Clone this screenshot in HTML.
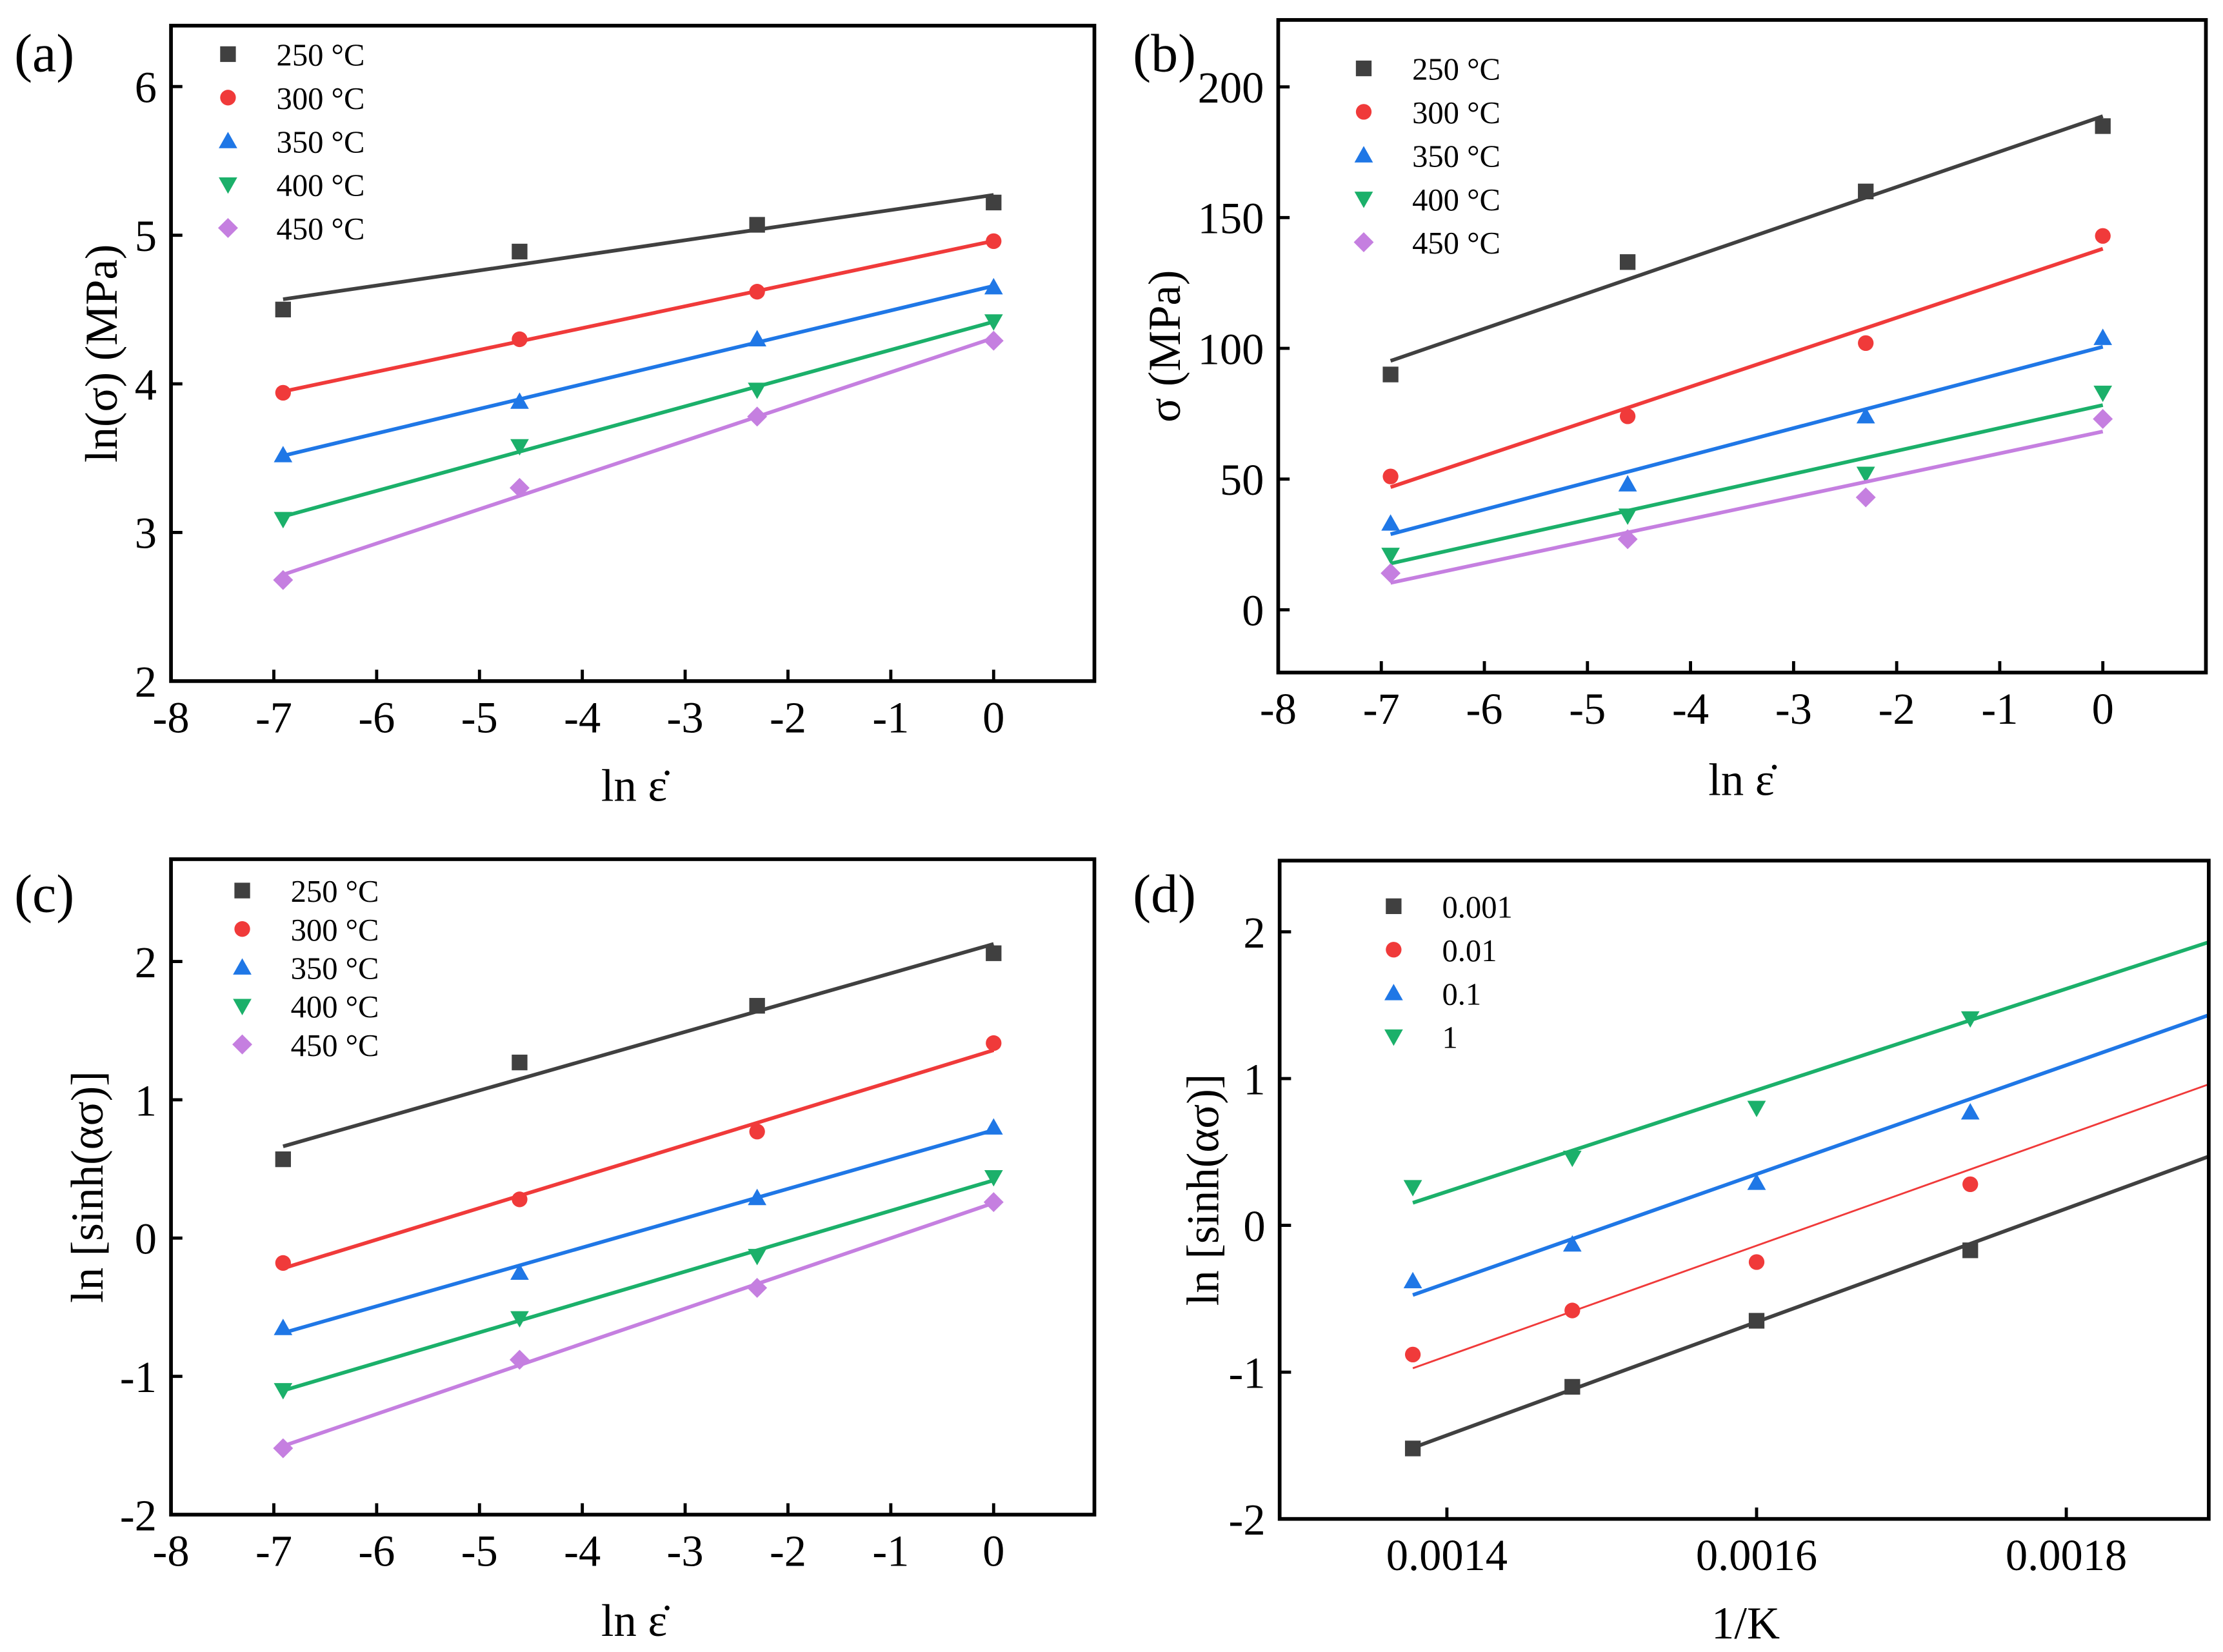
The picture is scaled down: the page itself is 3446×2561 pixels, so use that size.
<!DOCTYPE html>
<html><head><meta charset="utf-8"><style>
html,body{margin:0;padding:0;background:#fff;}
svg{display:block;font-family:"Liberation Serif",serif;}
</style></head><body>
<svg id="fig" width="3446" height="2561" viewBox="0 0 1560 1159.4" preserveAspectRatio="none" xmlns="http://www.w3.org/2000/svg"></svg>
<script>
const lnRate = [-6.91, -4.61, -2.30, 0];
const invT = [0.001378, 0.001481, 0.001600, 0.001738, 0.001912];
const tempLabels = ["250 °C","300 °C","350 °C","400 °C","450 °C"];
const rateLabels = ["0.001","0.01","0.1","1"];
const a250=[4.50,4.89,5.07,5.22], a300=[3.94,4.30,4.62,4.96], a350=[3.52,3.88,4.30,4.65], a400=[3.09,3.58,3.96,4.42], a450=[2.68,3.30,3.78,4.29];
const b250=[90,133,160,185], b300=[51,74,102,143], b350=[33,48,74,104], b400=[21,36,52,83], b450=[14,27,43,73];
const c250=[0.57,1.27,1.68,2.06], c300=[-0.18,0.28,0.77,1.41], c350=[-0.65,-0.25,0.29,0.80], c400=[-1.10,-0.58,-0.13,0.44], c450=[-1.52,-0.88,-0.36,0.26];
const d001=[-1.52,-1.10,-0.65,-0.17,0.57], d01=[-0.88,-0.58,-0.25,0.28,1.15], d1=[-0.38,-0.13,0.29,0.77,1.60], d10=[0.26,0.46,0.80,1.41,2.05];
const lnTicks=[-8,-7,-6,-5,-4,-3,-2,-1,0];
const aTicks=[2,3,4,5,6], bTicks=[0,50,100,150,200], cTicks=[-2,-1,0,1,2], dTicks=[-2,-1,0,1,2];
const dxTicks=[0.0014,0.0016,0.0018], dxTickLabels=["0.0014","0.0016","0.0018"];

const NS="http://www.w3.org/2000/svg";
const svg=document.getElementById('fig');
const colors=["#404040","#f03a3a","#1f77e6","#1bb06a","#c57fe0"];
const shapes=["sq","ci","tu","td","di"];
function mk(tag,attrs,parent){const e=document.createElementNS(NS,tag);for(const k in attrs)e.setAttribute(k,attrs[k]);(parent||svg).appendChild(e);return e;}
function marker(shape,x,y,c,g){
  let e;const s=5.5;
  if(shape==="sq")e=mk('rect',{x:x-s,y:y-s,width:2*s,height:2*s,fill:c},g);
  else if(shape==="ci")e=mk('circle',{cx:x,cy:y,r:s,fill:c},g);
  else if(shape==="tu")e=mk('polygon',{points:`${x},${y-6.5} ${x+6.5},${y+5} ${x-6.5},${y+5}`,fill:c},g);
  else if(shape==="td")e=mk('polygon',{points:`${x},${y+6.5} ${x+6.5},${y-5} ${x-6.5},${y-5}`,fill:c},g);
  else e=mk('polygon',{points:`${x},${y-7} ${x+7},${y} ${x},${y+7} ${x-7},${y}`,fill:c},g);
  return e;
}
function fit(xs,ys){const n=ys.length;let mx=0,my=0;for(let i=0;i<n;i++){mx+=xs[i];my+=ys[i];}mx/=n;my/=n;let sxy=0,sxx=0;for(let i=0;i<n;i++){sxy+=(xs[i]-mx)*(ys[i]-my);sxx+=(xs[i]-mx)**2;}const m=sxy/sxx;return [m,my-m*mx];}

function panel(o){
  const g=mk('g',{});
  
  
  const X=v=>o.L+(v-o.x0)/(o.x1-o.x0)*(o.R-o.L);
  const Y=v=>o.B-(v-o.y0)/(o.y1-o.y0)*(o.B-o.T);
  o.xt.forEach((v,i)=>{const t=mk('line',{x1:X(v),x2:X(v),y1:o.B,y2:o.B-8,stroke:"#000","stroke-width":2.2},g);
    
    const l=mk('text',{x:X(v),y:o.B+36,"font-size":31,"text-anchor":"middle"},g);l.textContent=o.xl?o.xl[i]:String(v);
    });
  o.yt.forEach(v=>{const t=mk('line',{x1:o.L,x2:o.L+8,y1:Y(v),y2:Y(v),stroke:"#000","stroke-width":2.2},g);
    
    const l=mk('text',{x:o.L-10,y:Y(v)+11,"font-size":31,"text-anchor":"end"},g);l.textContent=String(v);
    });
  o.series.forEach((ys,k)=>{
    const [m,b]=fit(o.xs,ys);const xa=o.lx0,xb=o.lx1;
    const ln=mk('line',{x1:X(xa),y1:Y(m*xa+b),x2:X(xb),y2:Y(m*xb+b),stroke:colors[k],"stroke-width":o.thin===k?1.3:2.6},g);
    
    
    ys.forEach((v,i)=>{if(o.xs[i]>o.x1)return;const p=marker(shapes[k],X(o.xs[i]),Y(v),colors[k],g);
      
      });
    const ly=o.legY+k*o.legDy;
    const lm=marker(shapes[k],o.legX,ly,colors[k],g);
    
    const lt=mk('text',{x:o.legX+34,y:ly+8,"font-size":22},g);lt.textContent=o.labels[k];
    
  });
  const box=mk('rect',{x:o.L,y:o.T,width:o.R-o.L,height:o.B-o.T,fill:"none",stroke:"#000","stroke-width":2.6},g);
  
  const xt=mk('text',{x:o.xtx,y:o.xty,"font-size":32,"text-anchor":"middle"},g);xt.textContent=o.xtitle;
  
  const yt=mk('text',{x:0,y:0,"font-size":32,"text-anchor":"middle",transform:`translate(${o.ytx},${o.yty}) rotate(-90)`},g);yt.textContent=o.ytitle;
  
  const pl=mk('text',{x:o.plx,y:o.ply,"font-size":38},g);pl.textContent=o.plabel;
  
}
panel({name:'panel-a',L:120,R:768,T:18,B:478,x0:-8,x1:0.98,y0:2,y1:6.41,xs:lnRate,xt:lnTicks,yt:aTicks,
  series:[a250,a300,a350,a400,a450],labels:tempLabels,lx0:-6.91,lx1:0,legX:160,legY:38,legDy:30.5,
  xtitle:"ln ε̇",xtx:445,xty:562,ytitle:"ln(σ) (MPa)",ytx:82,yty:248,plabel:"(a)",plx:10,ply:50});
panel({name:'panel-b',L:897,R:1548,T:14,B:472,x0:-8,x1:1.0,y0:-24,y1:225.6,xs:lnRate,xt:lnTicks,yt:bTicks,
  series:[b250,b300,b350,b400,b450],labels:tempLabels,lx0:-6.91,lx1:0,legX:957,legY:48,legDy:30.5,
  xtitle:"ln ε̇",xtx:1222,xty:558,ytitle:"σ (MPa)",ytx:828,yty:243,plabel:"(b)",plx:795,ply:50});
panel({name:'panel-c',L:120,R:768,T:603,B:1063,x0:-8,x1:0.98,y0:-2,y1:2.74,xs:lnRate,xt:lnTicks,yt:cTicks,
  series:[c250,c300,c350,c400,c450],labels:tempLabels,lx0:-6.91,lx1:0,legX:170,legY:625,legDy:27,
  xtitle:"ln ε̇",xtx:445,xty:1148,ytitle:"ln [sinh(ασ)]",ytx:72,yty:833,plabel:"(c)",plx:10,ply:640});
panel({name:'panel-d',L:898,R:1550,T:604,B:1066,x0:0.001292,x1:0.001892,y0:-2,y1:2.485,xs:invT,xt:dxTicks,xl:dxTickLabels,yt:dTicks,
  series:[d001,d01,d1,d10],labels:rateLabels,lx0:0.001378,lx1:0.001892,legX:978,legY:636,legDy:30.5,thin:1,
  xtitle:"1/K",xtx:1225,xty:1150,ytitle:"ln [sinh(ασ)]",ytx:855,yty:835,plabel:"(d)",plx:795,ply:640});
</script>
</body></html>
